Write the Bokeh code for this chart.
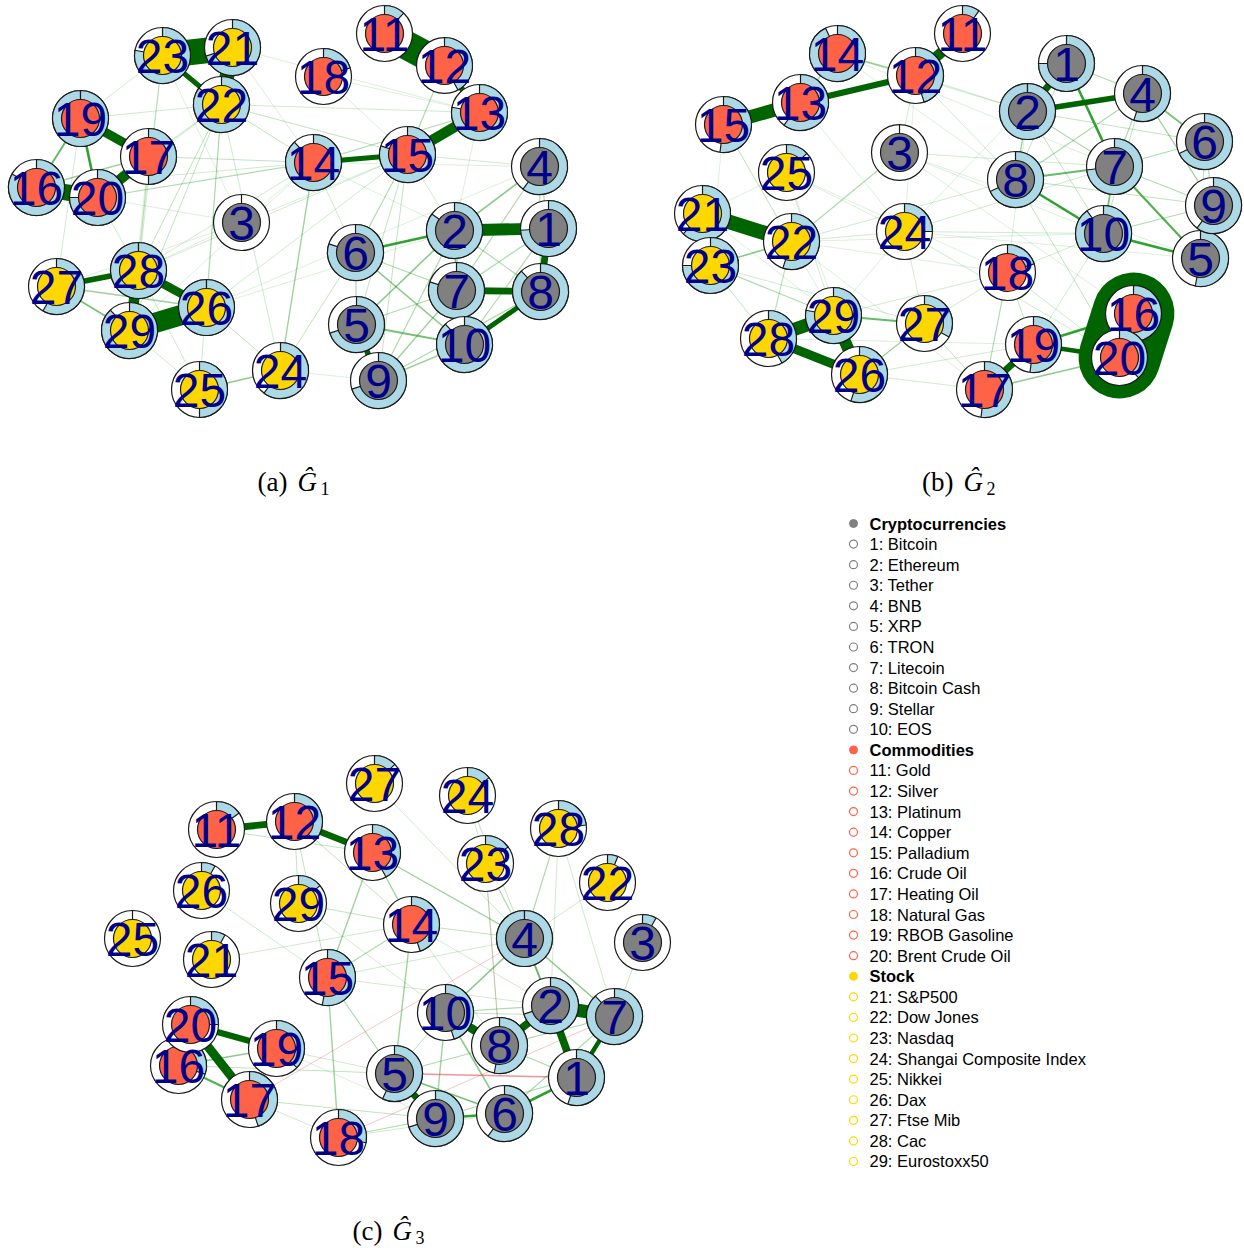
import math
from bokeh.plotting import figure
from bokeh.core.properties import value
from bokeh.embed import file_html
from bokeh.resources import INLINE

W, H = 1244, 1248

# ---- assets -------------------------------------------------------------
names = ["Bitcoin", "Ethereum", "Tether", "BNB", "XRP", "TRON", "Litecoin",
         "Bitcoin Cash", "Stellar", "EOS",
         "Gold", "Silver", "Platinum", "Copper", "Palladium", "Crude Oil",
         "Heating Oil", "Natural Gas", "RBOB Gasoline", "Brent Crude Oil",
         "S&P500", "Dow Jones", "Nasdaq", "Shangai Composite Index", "Nikkei",
         "Dax", "Ftse Mib", "Cac", "Eurostoxx50"]
group_names = ["Cryptocurrencies", "Commodities", "Stock"]
group_colors = ["#808080", "#FF6347", "#FFD700"]
group_of_node = [0] * 10 + [1] * 10 + [2] * 9

# ---- graph 1: layout (pixel positions), pie share, weighted edges --------
g1_x = [548, 454, 241, 539, 356, 355, 456, 540, 378, 464, 384, 444, 479, 313, 407,
        36, 148, 323, 80, 97, 232, 221, 162, 280, 199, 206, 56, 138, 129]
g1_y = [228, 230, 222, 166, 324, 252, 290, 291, 380, 344, 33, 65, 112, 162, 154,
        187, 156, 76, 118, 197, 47, 104, 55, 370, 389, 307, 286, 270, 330]
g1_share = [0.74, 0.85, 0.0, 0.6, 0.7, 0.8, 0.8, 0.88, 0.7, 0.88, 0.12, 0.42, 0.78,
            0.88, 0.8, 0.83, 0.5, 0.2, 1.0, 0.75, 0.7, 0.85, 0.78, 0.6, 0.5, 1.0,
            0.58, 1.0, 0.88]
g1_edges = [
    (21, 23, 0.9), (21, 22, 0.5), (22, 23, 0.15), (11, 12, 1.0), (12, 13, 0.18),
    (13, 15, 0.35), (14, 15, 0.15), (17, 19, 0.3), (16, 20, 0.55), (17, 20, 0.35),
    (19, 20, 0.1), (16, 19, 0.07), (16, 17, 0.04), (28, 29, 0.35), (26, 29, 0.7),
    (26, 28, 0.28), (27, 28, 0.18), (27, 29, 0.06), (26, 27, 0.04), (24, 25, 0.05),
    (1, 2, 0.4), (1, 8, 0.22), (7, 8, 0.22), (8, 10, 0.15), (2, 6, 0.1), (5, 9, 0.18),
    (2, 7, 0.06), (2, 4, 0.05), (5, 10, 0.06), (6, 10, 0.05), (2, 5, 0.05),
    (9, 7, 0.04), (9, 10, 0.04), (9, 8, 0.03), (4, 7, 0.03), (4, 8, 0.03),
    (1, 7, 0.03), (2, 8, 0.03), (6, 7, 0.03), (5, 7, 0.03), (1, 10, 0.03),
    (6, 5, 0.03), (4, 1, 0.03), (7, 10, 0.04), (2, 10, 0.03), (9, 2, 0.03),
    (22, 28, 0.02), (22, 29, 0.02), (22, 26, 0.02), (22, 25, 0.015), (22, 24, 0.015),
    (22, 14, 0.02), (22, 19, 0.015), (22, 17, 0.02), (22, 20, 0.015), (23, 19, 0.015),
    (23, 28, 0.015), (21, 14, 0.01), (21, 13, 0.01), (22, 13, 0.015), (22, 15, 0.02),
    (23, 29, 0.015), (14, 24, 0.04), (14, 20, 0.03), (14, 17, 0.02), (14, 16, 0.015),
    (14, 3, 0.01), (15, 6, 0.03), (15, 9, 0.02), (15, 5, 0.02), (15, 2, 0.015),
    (15, 4, 0.015), (12, 15, 0.03), (13, 14, 0.03), (13, 2, 0.01), (18, 15, 0.01),
    (18, 13, 0.01), (14, 6, 0.015), (28, 15, 0.015), (26, 15, 0.015), (28, 14, 0.015),
    (29, 14, 0.01), (26, 4, 0.01), (27, 3, 0.01), (20, 28, 0.015), (17, 28, 0.015),
    (19, 27, 0.015), (17, 29, 0.01), (26, 24, 0.02), (25, 28, 0.015), (29, 25, 0.015),
    (26, 2, 0.01), (24, 6, 0.02), (24, 9, 0.01), (14, 2, 0.01), (14, 4, 0.01),
    (3, 15, 0.01), (3, 28, 0.01), (23, 3, 0.01), (20, 3, 0.01),
]

# ---- graph 2 ---------------------------------------------------------------
g2_x = [1066, 1027, 899, 1142, 1200, 1204, 1114, 1015, 1213, 1103, 962, 915, 800, 837,
        723, 1133, 984, 1007, 1033, 1119, 702, 791, 710, 904, 786, 859, 924, 768, 833]
g2_y = [63, 111, 152, 93, 258, 141, 166, 179, 205, 233, 33, 75, 102, 53, 124, 313,
        389, 272, 344, 357, 213, 241, 265, 231, 172, 374, 323, 338, 315]
g2_share = [0.75, 1.0, 0.0, 0.55, 0.53, 0.68, 0.73, 0.68, 0.6, 0.9, 0.1, 0.45, 0.6,
            0.93, 0.52, 0.5, 0.52, 0.2, 0.52, 0.38, 0.62, 0.55, 0.75, 0.25, 0.13,
            0.55, 0.33, 0.42, 0.78]
g2_edges = [
    (11, 12, 0.35), (12, 13, 0.2), (13, 15, 0.45), (12, 14, 0.04), (13, 14, 0.04),
    (21, 22, 0.5), (21, 23, 0.35), (22, 23, 0.05), (28, 29, 0.45), (26, 28, 0.3),
    (26, 29, 0.4), (27, 29, 0.07), (26, 27, 0.04), (16, 20, 2.9), (19, 20, 0.13),
    (16, 19, 0.1), (17, 19, 0.22), (17, 20, 0.05), (1, 2, 0.22), (2, 4, 0.18),
    (1, 7, 0.1), (8, 10, 0.1), (7, 5, 0.08), (10, 5, 0.1), (8, 7, 0.07), (4, 6, 0.06),
    (2, 8, 0.04), (7, 10, 0.06), (4, 9, 0.04), (6, 9, 0.03), (1, 4, 0.03),
    (2, 7, 0.03), (4, 7, 0.03), (4, 8, 0.03), (7, 9, 0.03), (10, 9, 0.03),
    (6, 7, 0.03), (2, 6, 0.02), (6, 5, 0.02), (4, 10, 0.02), (1, 8, 0.02),
    (8, 9, 0.02), (2, 10, 0.02), (28, 22, 0.025), (23, 29, 0.03), (22, 3, 0.03),
    (12, 3, 0.015), (12, 24, 0.01), (12, 8, 0.015), (12, 2, 0.015), (13, 24, 0.01),
    (14, 2, 0.015), (14, 8, 0.01), (15, 22, 0.01), (15, 29, 0.01), (15, 23, 0.01),
    (25, 29, 0.015), (25, 26, 0.01), (25, 24, 0.01), (25, 18, 0.01), (21, 29, 0.01),
    (21, 25, 0.01), (22, 24, 0.015), (22, 18, 0.01), (22, 8, 0.015), (22, 10, 0.01),
    (23, 28, 0.02), (23, 27, 0.015), (29, 24, 0.01), (29, 18, 0.015), (27, 17, 0.02),
    (27, 24, 0.015), (27, 18, 0.015), (18, 17, 0.03), (18, 19, 0.02), (18, 10, 0.015),
    (18, 20, 0.015), (19, 10, 0.015), (3, 7, 0.015), (3, 10, 0.01), (3, 5, 0.01),
    (24, 10, 0.015), (24, 7, 0.015), (24, 5, 0.01), (24, 20, 0.015), (8, 20, 0.02),
    (2, 18, 0.01), (16, 3, 0.01), (1, 24, 0.01), (14, 7, 0.01), (26, 17, 0.015),
    (28, 19, 0.01), (26, 19, 0.015), (17, 22, 0.01),
]

# ---- graph 3 ---------------------------------------------------------------
g3_x = [576, 550, 642, 524, 394, 504, 614, 499, 435, 445, 216, 294, 372, 411, 327,
        178, 249, 338, 276, 190, 211, 607, 485, 467, 132, 201, 374, 558, 298]
g3_y = [1077, 1005, 942, 938, 1073, 1113, 1016, 1045, 1118, 1012, 829, 821, 852, 924,
        977, 1065, 1099, 1137, 1048, 1024, 959, 882, 863, 795, 938, 890, 783, 828, 903]
g3_share = [0.55, 0.7, 0.08, 1.0, 0.57, 0.6, 0.88, 0.53, 0.7, 0.45, 0.15, 0.37, 0.42,
            0.45, 0.53, 0.3, 0.45, 0.28, 0.37, 0.25, 0.08, 0.06, 0.15, 0.14, 0.0,
            0.08, 0.13, 0.23, 0.14]
g3_edges = [
    (11, 12, 0.22), (12, 13, 0.2), (16, 20, 0.15), (19, 20, 0.2), (17, 20, 0.3),
    (16, 17, 0.08), (16, 19, 0.05), (10, 8, 0.28), (8, 2, 0.25), (2, 7, 0.45),
    (2, 1, 0.25), (1, 7, 0.13), (5, 9, 0.22), (9, 6, 0.1), (6, 1, 0.1), (5, 6, 0.06),
    (4, 2, 0.07), (4, 10, 0.05), (4, 7, 0.05), (6, 10, 0.05), (9, 10, 0.04),
    (1, 8, 0.03), (2, 10, 0.03), (7, 8, 0.03), (5, 8, 0.03), (9, 1, 0.03),
    (6, 7, 0.03), (5, 10, 0.02), (4, 13, 0.04), (13, 14, 0.04), (13, 15, 0.04),
    (14, 5, 0.04), (15, 18, 0.04), (15, 5, 0.03), (14, 15, 0.03), (12, 15, 0.02),
    (12, 14, 0.02), (11, 13, 0.02), (12, 29, 0.02), (29, 14, 0.02), (29, 10, 0.015),
    (15, 4, 0.015), (15, 2, 0.015), (14, 4, 0.02), (14, 2, 0.015), (14, 8, 0.015),
    (21, 14, 0.015), (26, 15, 0.015), (16, 5, 0.02), (19, 5, 0.015), (17, 18, 0.015),
    (17, 9, 0.02), (18, 9, 0.03), (18, 6, 0.015), (23, 4, 0.03), (23, 8, 0.02),
    (24, 4, 0.02), (27, 4, 0.015), (28, 4, 0.03), (28, 7, 0.015), (22, 4, 0.015),
    (3, 7, 0.02), (24, 23, 0.015), (28, 2, 0.015), (19, 9, 0.01), (10, 7, 0.02),
    (5, 1, -0.05), (17, 4, -0.02), (18, 7, -0.02), (23, 8, -0.015),
]

captions = ["(a)", "(b)", "(c)"]
caption_index = ["1", "2", "3"]

# ---- styling ---------------------------------------------------------------
R_OUT, R_IN = 28, 19
RING_COLOR = "#ADD8E6"
EDGE_DARK, EDGE_MID, EDGE_NEG = "#006400", "#1E9A1E", "#E0343C"
LABEL_COLOR = "#00008B"
OUTLINE = "#1a1a1a"

p = figure(width=W, height=H, x_range=(0, W), y_range=(0, H),
           output_backend="svg", toolbar_location=None,
           x_axis_location=None, y_axis_location=None, min_border=0)
p.outline_line_color = None
p.xgrid.visible = False
p.ygrid.visible = False
p.background_fill_color = "white"
p.border_fill_color = "white"


def to_y(v):
    return H - v


def edge_style(wt):
    a = abs(wt)
    if a >= 0.12:
        return 0.7 + 28 * a, 1.0, (EDGE_NEG if wt < 0 else EDGE_DARK)
    width = 0.6 + 20 * a
    alpha = min(1.0, 0.12 + 8 * a)
    return width, alpha, (EDGE_NEG if wt < 0 else EDGE_MID)


def draw_graph(xs, ys, share, edges):
    X = list(xs)
    Y = [to_y(v) for v in ys]

    # edges, weakest first so strong links sit on top
    cols = dict(x0=[], y0=[], x1=[], y1=[], w=[], a=[], c=[])
    for i, j, wt in sorted(edges, key=lambda e: abs(e[2])):
        lw, la, lc = edge_style(wt)
        cols["x0"].append(X[i - 1]); cols["y0"].append(Y[i - 1])
        cols["x1"].append(X[j - 1]); cols["y1"].append(Y[j - 1])
        cols["w"].append(lw); cols["a"].append(la); cols["c"].append(lc)
    p.segment(x0="x0", y0="y0", x1="x1", y1="y1", line_width="w", line_alpha="a",
              line_color="c", line_cap="round", source=cols)

    # pie-ring vertices, drawn one after another
    for k in range(len(X)):
        p.circle(x=[X[k]], y=[Y[k]], radius=R_OUT, fill_color="white",
                 line_color=OUTLINE, line_width=1.2)
        f = min(share[k], 0.9995)
        if f > 0:
            p.wedge(x=[X[k]], y=[Y[k]], radius=R_OUT, start_angle=math.pi / 2,
                    end_angle=math.pi / 2 - 2 * math.pi * f, direction="clock",
                    fill_color=RING_COLOR, line_color=OUTLINE, line_width=1.2)
        else:
            p.segment(x0=[X[k]], y0=[Y[k] + R_IN], x1=[X[k]], y1=[Y[k] + R_OUT],
                      line_color=OUTLINE, line_width=1.2)
        p.circle(x=[X[k]], y=[Y[k]], radius=R_IN,
                 fill_color=group_colors[group_of_node[k]],
                 line_color=OUTLINE, line_width=1.2)

    p.text(x=X, y=[v - 1 for v in Y], text=[str(k + 1) for k in range(len(X))],
           text_font=value("Liberation Sans"), text_font_size=value("48px"),
           text_align="center", text_baseline="middle", text_color=LABEL_COLOR)


draw_graph(g1_x, g1_y, g1_share, g1_edges)
draw_graph(g2_x, g2_y, g2_share, g2_edges)
draw_graph(g3_x, g3_y, g3_share, g3_edges)

# ---- panel captions ----------------------------------------------------------
cap_x = [287, 953, 382]
cap_y = [481, 481, 1230]
p.text(x=cap_x, y=[to_y(v) for v in cap_y], text=captions,
       text_font=value("Liberation Serif"), text_font_size=value("27px"),
       text_align="right", text_baseline="middle", text_color="black")
p.text(x=[v + 10 for v in cap_x], y=[to_y(v) for v in cap_y], text=["Ĝ"] * 3,
       text_font=value("Liberation Serif"), text_font_size=value("27px"),
       text_font_style="italic", text_align="left", text_baseline="middle",
       text_color="black")
p.text(x=[v + 33 for v in cap_x], y=[to_y(v + 7) for v in cap_y], text=caption_index,
       text_font=value("Liberation Serif"), text_font_size=value("18px"),
       text_align="left", text_baseline="middle", text_color="black")

# ---- legend -------------------------------------------------------------------
leg_x, leg_y0, leg_dy = 853, 523, 20.58
rows_text, rows_color, rows_head = [], [], []
for g, gname in enumerate(group_names):
    rows_text.append(gname); rows_color.append(group_colors[g]); rows_head.append(True)
    for k in range(len(names)):
        if group_of_node[k] == g:
            rows_text.append(f"{k + 1}: {names[k]}")
            rows_color.append(group_colors[g]); rows_head.append(False)
row_y = [to_y(leg_y0 + leg_dy * r) for r in range(len(rows_text))]

hx = [leg_x for r in range(len(rows_text)) if rows_head[r]]
hy = [row_y[r] for r in range(len(rows_text)) if rows_head[r]]
hc = [rows_color[r] for r in range(len(rows_text)) if rows_head[r]]
ix = [leg_x for r in range(len(rows_text)) if not rows_head[r]]
iy = [row_y[r] for r in range(len(rows_text)) if not rows_head[r]]
ic = [rows_color[r] for r in range(len(rows_text)) if not rows_head[r]]
p.scatter(x=hx, y=hy, size=8, marker="circle", fill_color=hc, line_color=hc)
p.scatter(x=ix, y=iy, size=8, marker="circle", fill_color="white", line_color=ic,
          line_width=1.2)
p.text(x=[leg_x + 16] * len(hx), y=hy,
       text=[rows_text[r] for r in range(len(rows_text)) if rows_head[r]],
       text_font=value("Liberation Sans"), text_font_size=value("16.5px"),
       text_font_style="bold", text_baseline="middle", text_color="black")
p.text(x=[leg_x + 16] * len(ix), y=iy,
       text=[rows_text[r] for r in range(len(rows_text)) if not rows_head[r]],
       text_font=value("Liberation Sans"), text_font_size=value("16.5px"),
       text_baseline="middle", text_color="black")

open("out.html", "w").write(file_html(p, INLINE))
